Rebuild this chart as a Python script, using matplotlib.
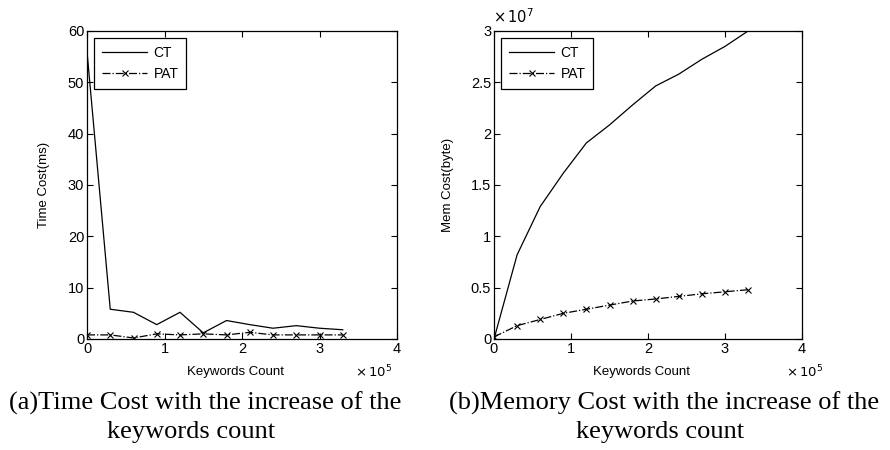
import matplotlib.pyplot as plt

plt.rcParams['font.family'] = ['Liberation Sans', 'DejaVu Sans']

# keyword count in units of 1e5
keywords = [0, 0.3, 0.6, 0.9, 1.2, 1.5, 1.8, 2.1, 2.4, 2.7, 3.0, 3.3]

time_ct = [56, 5.8, 5.2, 2.8, 5.2, 1.2, 3.6, 2.8, 2.1, 2.6, 2.1, 1.8]
time_pat = [0.8, 0.8, 0.2, 1.0, 0.8, 1.0, 0.8, 1.3, 0.8, 0.8, 0.8, 0.8]

# memory in units of 1e7 bytes
mem_ct = [0.0, 0.82, 1.29, 1.615, 1.91, 2.085, 2.28, 2.465, 2.58, 2.725, 2.85, 3.0]
mem_pat = [0.02, 0.13, 0.19, 0.25, 0.29, 0.33, 0.37, 0.39, 0.415, 0.44, 0.46, 0.48]

W, H = 890, 450
fig = plt.figure(figsize=(8.9, 4.5), dpi=100)
ax1 = fig.add_axes([87 / W, 111 / H, 310 / W, 308 / H])
ax2 = fig.add_axes([494 / W, 111 / H, 308 / W, 308 / H])


def style_axes(ax, ylim, yticks, ylabel, ylabel_x):
    ax.set_xlim(0, 4)
    ax.set_ylim(*ylim)
    ax.set_xticks([0, 1, 2, 3, 4])
    ax.set_yticks(yticks)
    ax.tick_params(direction='in', top=True, right=True, labelsize=10.5, length=4, width=0.8, pad=2)
    ax.set_ylabel(ylabel, fontsize=9.5)
    ax.yaxis.set_label_coords(ylabel_x, 0.5)
    ax.set_xlabel('Keywords Count', fontsize=9.5)
    ax.xaxis.set_label_coords(0.48, -0.088)
    for s in ax.spines.values():
        s.set_linewidth(0.9)
    leg = ax.legend(loc='upper left', fancybox=False, edgecolor='black', framealpha=1,
                    fontsize=10, handlelength=3.3, borderpad=0.55, labelspacing=0.55,
                    borderaxespad=0.5, handletextpad=0.45)
    leg.get_frame().set_linewidth(0.9)


ax1.plot(keywords, time_ct, color='black', linewidth=0.9, label='CT')
ax1.plot(keywords, time_pat, color='black', linewidth=0.9, linestyle='-.', marker='x',
         markersize=5, markeredgewidth=0.8, label='PAT')
style_axes(ax1, (0, 60), [0, 10, 20, 30, 40, 50, 60], 'Time Cost(ms)', (50 - 87) / 310)

ax2.plot(keywords, mem_ct, color='black', linewidth=0.9, label='CT')
ax2.plot(keywords, mem_pat, color='black', linewidth=0.9, linestyle='-.', marker='x',
         markersize=5, markeredgewidth=0.8, label='PAT')
style_axes(ax2, (0, 3), [0, 0.5, 1, 1.5, 2, 2.5, 3], 'Mem Cost(byte)', (454 - 494) / 308)
ax2.set_yticklabels(['0', '0.5', '1', '1.5', '2', '2.5', '3'])

# axis multipliers
fig.text(355 / W, 1 - 372 / H, r'$\times\,10^{5}$', fontsize=9.5, ha='left', va='center')
fig.text(786 / W, 1 - 372 / H, r'$\times\,10^{5}$', fontsize=9.5, ha='left', va='center')
fig.text(493 / W, 1 - 17 / H, r'$\times\,10^{7}$', fontsize=10.5, ha='left', va='center')

# sub-figure captions
cap = dict(family=['Liberation Serif'], fontsize=19, ha='center', va='center')
fig.text(205 / W, 1 - 403 / H, '(a)Time Cost with the increase of the', **cap)
fig.text(191 / W, 1 - 432 / H, 'keywords count', **cap)
fig.text(664 / W, 1 - 403 / H, '(b)Memory Cost with the increase of the', **cap)
fig.text(660 / W, 1 - 432 / H, 'keywords count', **cap)

fig.savefig('out.png', dpi=100)
